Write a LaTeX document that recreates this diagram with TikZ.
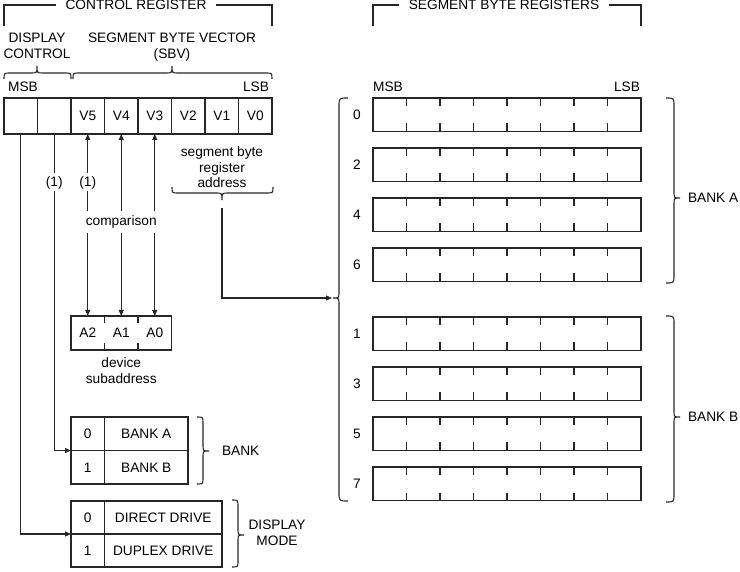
\documentclass[tikz,border=0pt]{standalone}
\usepackage{fontspec}
\setmainfont{Liberation Sans}
\usetikzlibrary{arrows.meta}
\newcommand\HBrace[5]{% x1,x2,h,xtip,sign (+1 tip up, -1 tip down)
  \draw ({#1},{#3+6*(#5)}) .. controls ({#1},{#3}) .. ({#1+6},{#3}) -- ({#4-6},{#3})
    .. controls ({#4},{#3}) .. ({#4},{#3-7*(#5)}) .. controls ({#4},{#3}) .. ({#4+6},{#3})
    -- ({#2-6},{#3}) .. controls ({#2},{#3}) .. ({#2},{#3+6*(#5)});}
\newcommand\VBrace[6]{% y1,y2,v,ytip,sign (+1 tip right, -1 tip left),r
  \draw ({#3-(#6)*(#5)},{#1}) .. controls ({#3},{#1}) .. ({#3},{#1+#6}) -- ({#3},{#4-6})
    .. controls ({#3},{#4}) .. ({#3+6*(#5)},{#4}) .. controls ({#3},{#4}) .. ({#3},{#4+6})
    -- ({#3},{#2-#6}) .. controls ({#3},{#2}) .. ({#3-(#6)*(#5)},{#2});}
\begin{document}
\begin{tikzpicture}[x=1pt,y=-1pt,line width=1.1pt,color=black!85,
  every node/.style={font=\fontsize{13.7}{15.5}\selectfont,text=black,inner sep=0pt,outer sep=0pt},
  lbl/.style={text height=9.8pt,text depth=0pt},
  gap/.style={lbl,fill=white,inner xsep=2pt,inner ysep=4pt},
  cell/.style={lbl,draw,minimum width=33.5pt,minimum height=36pt},
  acell/.style={lbl,minimum width=33.5pt,minimum height=34pt},
  tcell/.style={lbl,draw,minimum height=33.5pt},
  arr/.style={-{Triangle[length=6pt,width=5pt]}},
  darr/.style={{Triangle[length=6pt,width=5pt]}-{Triangle[length=6pt,width=5pt]}}]
\useasboundingbox (0,0) rectangle (740,572);

% ---------- headers ----------
\node[lbl] (crt) at (136,5) {CONTROL REGISTER};
\draw ([xshift=-10pt]crt.west) -| (4,26);
\draw ([xshift=10pt]crt.east) -| (272,26);
\node[lbl] (sbr) at (504,5) {SEGMENT BYTE REGISTERS};
\draw ([xshift=-10pt]sbr.west) -| (373,26);
\draw ([xshift=10pt]sbr.east) -| (641,26);

% ---------- control register ----------
\node[align=center,anchor=north] (dc) at (37,33) {DISPLAY\\CONTROL};
\node[align=center,anchor=north] (sbv) at (172,33) {SEGMENT BYTE VECTOR\\(SBV)};
\HBrace{4}{71}{73}{37}{1}
\HBrace{73}{272}{73}{172}{1}
\node[lbl] (cmsb) at (23,87) {MSB};
\node[lbl] (clsb) at (256,87) {LSB};
\foreach \i/\lab in {1/,2/,3/V5,4/V4,5/V3,6/V2,7/V1,8/V0}
  \node[cell] (c\i) at ({4+33.5*(\i-0.5)},116) {\lab};

% ---------- device subaddress ----------
\node[acell] (a2) at (87.75,333) {A2};
\node[acell] (a1) at (121.25,333) {A1};
\node[acell] (a0) at (154.75,333) {A0};
\draw (a2.north west) rectangle (a0.south east);
\foreach \c in {a2,a1} {
  \draw (\c.north east) -- ++(0,7);
  \draw (\c.south east) -- ++(0,-7);
}
\node[align=center,anchor=north] (dsa) at (121.25,358) {device\\subaddress};

\draw[darr] (c3.south) -- (a2.north);
\draw[darr] (c4.south) -- (a1.north);
\draw[darr] (c5.south) -- (a0.north);

% ---------- bank table ----------
\node[tcell,minimum width=33.5pt] (bk0) at (87.75,433.75) {0};
\node[tcell,minimum width=83.5pt] (bka) at (146.25,433.75) {BANK A};
\node[tcell,minimum width=33.5pt] (bk1) at (87.75,467.25) {1};
\node[tcell,minimum width=83.5pt] (bkb) at (146.25,467.25) {BANK B};
\VBrace{417}{484}{203}{451}{1}{6}
\node[lbl,anchor=west] (bank) at (222,451) {BANK};

% ---------- display mode table ----------
\node[tcell,minimum width=33.5pt,minimum height=33pt] (dm0) at (87.75,517.5) {0};
\node[tcell,minimum width=117.5pt,minimum height=33pt] (dmd) at (163.25,517.5) {DIRECT DRIVE};
\node[tcell,minimum width=33.5pt,minimum height=33pt] (dm1) at (87.75,550.5) {1};
\node[tcell,minimum width=117.5pt,minimum height=33pt] (dmu) at (163.25,550.5) {DUPLEX DRIVE};
\VBrace{500}{567}{238}{535}{1}{6}
\node[align=center,anchor=north] (dmode) at (277,520) {DISPLAY\\MODE};

% ---------- display control connectors ----------
\draw[arr] (c2.south) |- (bk0.south west);
\draw[arr] (c1.south) |- (dm0.south west);

% ---------- labels over lines ----------
\node[gap] (n1a) at (54.25,182) {(1)};
\node[gap] (n1b) at (87.75,182) {(1)};
\node[gap,inner ysep=5pt,text depth=3pt] (cmp) at (121.25,222) {comparison};

% ---------- segment byte register address ----------
\node[align=center,anchor=north] (sba) at (222,147) {segment byte\\register\\address};
\HBrace{172}{273}{193}{222}{-1}
\coordinate (sbtip) at (222,208);
\coordinate (bigtip) at (332,298);
\draw[arr] (sbtip) |- (bigtip);

% ---------- segment byte registers ----------
\node[lbl] (rmsb) at (388,87) {MSB};
\node[lbl] (rlsb) at (627,87) {LSB};
\foreach \n/\yy in {0/98,2/148,4/198,6/248,1/317,3/367,5/417,7/467} {
  \node[draw,minimum width=268pt,minimum height=33.5pt,anchor=north west] (r\n) at (373,\yy) {};
  \node[lbl] (l\n) at (357,{\yy+16.75}) {\n};
  \foreach \k in {1,...,7} {
    \draw ({373+33.5*\k},\yy) -- ++(0,8);
    \draw ({373+33.5*\k},{\yy+33.5}) -- ++(0,-8);
  }
}
\VBrace{98}{501}{339}{298}{-1}{9}
\VBrace{98}{283}{674}{198}{1}{8}
\VBrace{316}{502}{674}{417}{1}{8}
\node[lbl,anchor=west] (bka2) at (688,198) {BANK A};
\node[lbl,anchor=west] (bkb2) at (688,417) {BANK B};
\end{tikzpicture}
\end{document}
